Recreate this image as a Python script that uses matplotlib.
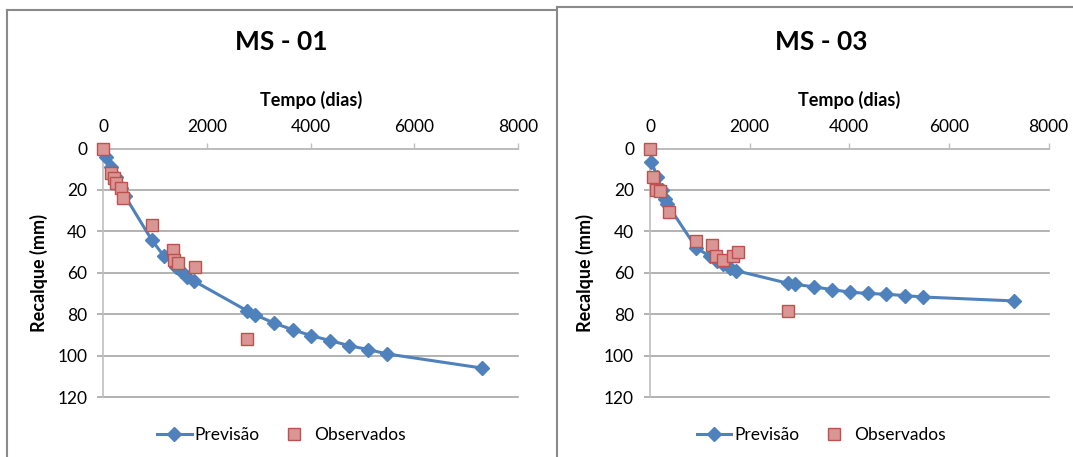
import matplotlib.pyplot as plt
from matplotlib.lines import Line2D

W, H = 1073, 457

# MS - 01
t_prev_01 = [60, 150, 250, 350, 420, 930, 1170, 1400, 1500, 1610, 1750,
             2770, 2920, 3285, 3650, 4015, 4380, 4745, 5110, 5475, 7300]
r_prev_01 = [4, 9, 14, 19, 23, 44, 52, 57, 59, 62, 64,
             78.3, 80.2, 84.2, 87.5, 90.4, 92.8, 95.2, 97.1, 99.2, 106]
t_obs_01 = [0, 143, 206, 245, 335, 386, 933, 1338, 1363, 1446, 1768, 2776]
r_obs_01 = [0, 12.0, 14.4, 16.5, 18.9, 24.0, 36.9, 49.0, 53.8, 55.4, 57.0, 92.0]

# MS - 03
t_prev_03 = [30, 150, 250, 300, 350, 930, 1200, 1350, 1460, 1600, 1730,
             2770, 2920, 3285, 3650, 4015, 4380, 4745, 5110, 5475, 7300]
r_prev_03 = [6.5, 14, 20, 24.5, 27, 48, 52, 54.5, 56, 57.5, 59,
             65.1, 65.6, 66.8, 68.1, 69.4, 70.0, 70.4, 71.0, 71.7, 73.6]
t_obs_03 = [0, 53, 120, 207, 388, 924, 1245, 1325, 1473, 1660, 1760, 2765]
r_obs_03 = [0, 13.6, 20.0, 20.5, 30.9, 44.9, 46.5, 52.1, 53.7, 52.1, 50.2, 78.7]

plt.rcParams['font.family'] = ['Lato', 'DejaVu Sans']

fig = plt.figure(figsize=(W / 100, H / 100), dpi=100)


def fx(x):
    return x / W


def fy(y):
    return 1 - y / H


# panel borders (Excel chart areas)
border = dict(color='#8a8a8a', lw=1.5, transform=fig.transFigure)
fig.add_artist(Line2D([fx(6.5), fx(6.5)], [fy(10), fy(460)], **border))
fig.add_artist(Line2D([fx(6.5), fx(556)], [fy(10), fy(10)], **border))
fig.add_artist(Line2D([fx(556.7), fx(556.7)], [fy(7.3), fy(460)], **border))
fig.add_artist(Line2D([fx(556.7), fx(1075)], [fy(7.3), fy(7.3)], **border))


def draw_chart(x0, x1, title, cx, t_prev, r_prev, t_obs, r_obs):
    ax = fig.add_axes([fx(x0), fy(397), fx(x1 - x0), (397 - 148.5) / H])
    ax.plot(t_prev, r_prev, color='#4F81BD', lw=2.2, marker='D', ms=7.5,
            label='Previsão', zorder=3, clip_on=False)
    ax.plot(t_obs, r_obs, ls='none', marker='s', ms=8, mfc='#D99694',
            mec='#C0504D', mew=1, label='Observados', zorder=4, clip_on=False)
    ax.set_xlim(0, 8000)
    ax.set_ylim(120, 0)
    ax.set_xticks(range(0, 8001, 2000))
    ax.set_yticks(range(0, 121, 20))
    ax.xaxis.tick_top()
    ax.xaxis.set_label_position('top')
    ax.set_xlabel('Tempo (dias)', fontsize=13, fontweight='bold', labelpad=9)
    ax.set_ylabel('Recalque (mm)', fontsize=13, fontweight='bold', labelpad=7)
    ax.grid(axis='y', color='#a6a6a6', lw=1.2)
    for ln in ax.get_ygridlines():
        ln.set_clip_on(False)
    ax.spines['bottom'].set_visible(False)
    ax.spines['right'].set_visible(False)
    ax.spines['left'].set_color('#bfbfbf')
    ax.spines['top'].set_color('#bfbfbf')
    ax.spines['left'].set_linewidth(1.2)
    ax.spines['top'].set_linewidth(1.2)
    ax.tick_params(axis='y', direction='out', length=4.5, width=1.2,
                   color='#a6a6a6', labelsize=12.5, pad=7)
    ax.tick_params(axis='x', direction='out', length=4, width=1,
                   color='#bfbfbf', labelsize=12.5, pad=6)
    fig.text(fx(cx), fy(41.7), title, fontsize=19, fontweight='bold',
             ha='center', va='center')
    fig.legend(handles=ax.get_lines(), loc='center',
               bbox_to_anchor=(fx(cx), fy(435)), ncol=2, frameon=False,
               fontsize=12.5, handlelength=2.0, handletextpad=0.15,
               columnspacing=1.0)
    return ax


draw_chart(103.3, 518, 'MS - 01', 281.5, t_prev_01, r_prev_01, t_obs_01, r_obs_01)
draw_chart(650, 1048.5, 'MS - 03', 821, t_prev_03, r_prev_03, t_obs_03, r_obs_03)

fig.savefig('out.png', dpi=100, facecolor='white')
